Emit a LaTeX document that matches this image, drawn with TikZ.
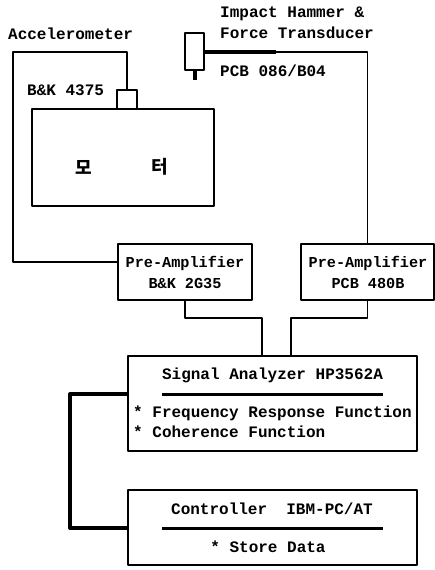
\documentclass[tikz,border=0pt]{standalone}
\usepackage{fontspec}
\setmainfont{Liberation Mono}[BoldFont={* Bold}]
\newfontfamily\krfont{Noto Sans CJK KR}
\tikzset{
	boxnode/.style={draw,line width=1.3pt,inner sep=0pt},
	wire/.style={line width=1.3pt},
	thickwire/.style={line width=4pt},
	label/.style={inner sep=0pt,font=\fontsize{16}{16}\selectfont\bfseries},
	leftlabel/.style={label,anchor=west},
	amplabel/.style={label,font=\fontsize{15.2}{16}\selectfont\bfseries},
	motorlabel/.style={inner sep=0pt,font=\krfont\fontsize{18}{18}\selectfont\bfseries},
}
\begin{document}
\begin{tikzpicture}[x=1pt,y=-1pt,line join=round]
	\useasboundingbox (0,0) rectangle (435,570);
	% boxes
	\node[boxnode,minimum width=182pt,minimum height=97pt] (motor) at (123,157.5) {};
	\node[boxnode,minimum width=20pt,minimum height=19pt] (accel) at (127,99.5) {};
	\node[boxnode,minimum width=19pt,minimum height=37pt] (hammer) at (194.5,51.5) {};
	\node[boxnode,minimum width=134pt,minimum height=56pt] (ampA) at (185,272) {};
	\node[boxnode,minimum width=133pt,minimum height=56pt] (ampB) at (367.5,272) {};
	\node[boxnode,minimum width=289pt,minimum height=95pt] (analyzer) at (272.5,403.5) {};
	\node[boxnode,minimum width=289pt,minimum height=75pt] (controller) at (272.5,527.5) {};
	% free points of the wires
	\coordinate (accelTop) at (13,52);
	\coordinate (ampAIn) at (ampA.west |- 0,262);
	\coordinate (hammerOut) at (hammer.east |- 0,52);
	\coordinate (thickEnd) at (276,52);
	\coordinate (tipEnd) at (194.5,80);
	\coordinate (analyzerInA) at (262,356);
	\coordinate (analyzerInB) at (291,356);
	\coordinate (analyzerOut) at (128,394);
	\coordinate (controllerIn) at (128,528);
	% wires
	\draw[wire] (accel.north) -- (accel.north |- accelTop) -- (accelTop) |- (ampAIn);
	\draw[thickwire] (hammerOut) -- (thickEnd);
	\draw[wire] (thickEnd) -| (ampB.north);
	\draw[thickwire] (hammer.south) -- (tipEnd);
	\draw[wire] (ampA.south) -- (ampA.south |- 0,318) -| (analyzerInA);
	\draw[wire] (ampB.south) -- (ampB.south |- 0,318) -| (analyzerInB);
	\draw[thickwire] (analyzerOut) -- (70,394) -- (70,528) -- (controllerIn);
	% title rules
	\draw[line width=3pt] (162,394) -- (383,394);
	\draw[line width=3pt] (162,528) -- (383,528);
	% labels
	\node[leftlabel] (accelName) at (8,34) {Accelerometer};
	\node[leftlabel] (accelType) at (27,90) {B\&K 4375};
	\node[leftlabel] (hammerA) at (220,14) {Impact Hammer \&};
	\node[leftlabel] (hammerB) at (220,33) {Force Transducer};
	\node[leftlabel] (hammerType) at (220,71) {PCB 086/B04};
	\node[motorlabel] (motorA) at (84,167) {모};
	\node[motorlabel] (motorB) at (160,167) {터};
	\node[amplabel] (ampAName) at (185,263) {Pre-Amplifier};
	\node[amplabel] (ampAType) at (185,283) {B\&K 2G35};
	\node[amplabel] (ampBName) at (368,263) {Pre-Amplifier};
	\node[amplabel] (ampBType) at (368,283) {PCB 480B};
	\node[label] (analyzerName) at (272.5,375) {Signal Analyzer HP3562A};
	\node[leftlabel] (analyzerA) at (133,413) {* Frequency Response Function};
	\node[leftlabel] (analyzerB) at (133,432) {* Coherence Function};
	\node[label] (controllerName) at (272,509) {Controller\ \ IBM-PC/AT};
	\node[label] (controllerA) at (268,547) {* Store Data};
\end{tikzpicture}
\end{document}
